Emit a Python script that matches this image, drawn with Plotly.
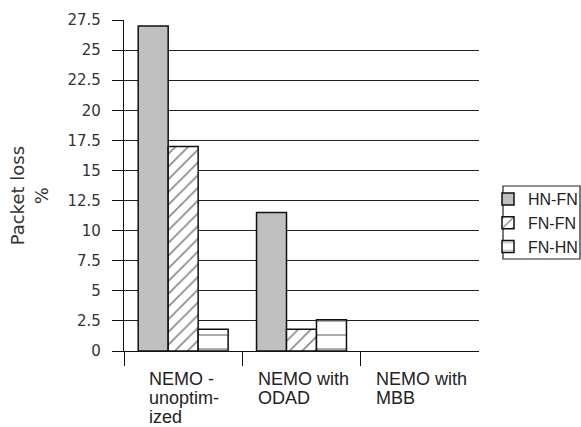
import plotly.graph_objects as go

# Packet loss per handover scenario and traffic direction
categories = [["NEMO -", "unoptim-", "ized"], ["NEMO with", "ODAD"], ["NEMO with", "MBB"]]
series_names = ["HN-FN", "FN-FN", "FN-HN"]
hn_fn = [27.0, 11.5, 0.0]
fn_fn = [17.0, 1.8, 0.0]
fn_hn = [1.8, 2.6, 0.0]
y_ticks = [0, 2.5, 5, 7.5, 10, 12.5, 15, 17.5, 20, 22.5, 25, 27.5]

positions = list(range(len(categories)))


def outline(values):
    # empty bars get no outline so nothing is drawn at zero
    return dict(color="#111111", width=[1.5 if v > 0 else 0 for v in values])


fig = go.Figure()
fig.add_trace(go.Bar(
    x=positions, y=hn_fn, name=series_names[0],
    marker=dict(color="#c0c0c0", line=outline(hn_fn)),
))
fig.add_trace(go.Bar(
    x=positions, y=fn_fn, name=series_names[1],
    marker=dict(color="white", line=outline(fn_fn),
                pattern=dict(shape="/", size=9, solidity=0.18,
                             fgcolor="#111111", bgcolor="white")),
))
fig.add_trace(go.Bar(
    x=positions, y=fn_hn, name=series_names[2],
    marker=dict(color="white", line=outline(fn_hn),
                pattern=dict(shape="-", size=14, solidity=0.1,
                             fgcolor="#111111", bgcolor="white")),
))

# Category labels: one annotation per text line, block left-aligned
label_font = dict(family="Liberation Sans, Arial, sans-serif", size=18, color="#222222")
left_offsets = [-36, -46, -46]
line_step = 19
for pos, lines, off in zip(positions, categories, left_offsets):
    for i, line in enumerate(lines):
        fig.add_annotation(
            x=pos, y=0, xref="x", yref="paper", text=line,
            showarrow=False, xanchor="left", yanchor="top",
            xshift=off, yshift=-16 - i * line_step,
            font=label_font,
        )

# Axis title
fig.add_annotation(
    x=-0.265, y=0.47, xref="paper", yref="paper",
    text="Packet loss<br>%", textangle=-90, showarrow=False,
    xanchor="center", yanchor="middle",
    font=dict(family="DejaVu Sans, sans-serif", size=18, color="#333333"),
)

# Legend frame
fig.add_shape(type="rect", xref="paper", yref="paper",
              x0=(503 - 124) / 355, x1=(580 - 124) / 355,
              y0=(351 - 259) / 331, y1=(351 - 186) / 331,
              line=dict(color="#222222", width=1.2), fillcolor="rgba(0,0,0,0)")

fig.update_layout(
    width=581, height=427,
    margin=dict(l=124, r=102, t=20, b=76, autoexpand=False),
    paper_bgcolor="white", plot_bgcolor="white",
    barmode="group", bargap=0.24, bargroupgap=0,
    showlegend=True,
    legend=dict(
        x=(488 - 124) / 355, y=(351 - 182) / 331,
        xanchor="left", yanchor="top",
        bgcolor="rgba(0,0,0,0)", borderwidth=0,
        font=dict(family="Liberation Sans, Arial, sans-serif", size=16, color="#222222"),
        tracegroupgap=0,
    ),
    xaxis=dict(
        range=[-0.5, 2.5], showgrid=False, zeroline=False,
        showline=True, linecolor="#111111", linewidth=1.2,
        tickmode="array", tickvals=[-0.5, 0.5, 1.5],
        ticks="outside", ticklen=14, tickcolor="#111111", tickwidth=1.2,
        showticklabels=False,
    ),
    yaxis=dict(
        range=[0, 27.5], tickmode="array", tickvals=y_ticks,
        ticktext=[f"{v:g}" for v in y_ticks],
        showgrid=True, gridcolor="#222222", gridwidth=1.2,
        zeroline=False, showline=True, linecolor="#111111", linewidth=1.2,
        ticks="outside", ticklen=11, tickcolor="#111111", tickwidth=1.2,
        ticklabelstandoff=8,
        tickfont=dict(family="DejaVu Sans, sans-serif", size=15, color="#333333"),
    ),
)

fig.write_html("out.html")
